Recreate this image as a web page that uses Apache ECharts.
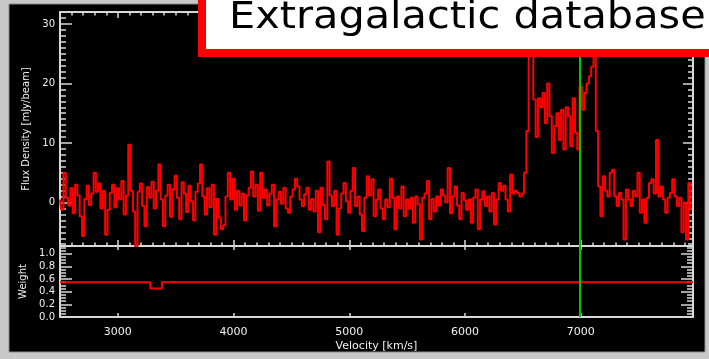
<!DOCTYPE html>
<html>
<head>
<meta charset="utf-8">
<script src="https://cdn.jsdelivr.net/npm/echarts@6/dist/echarts.min.js"></script>
<style>
html,body{margin:0;padding:0;background:#c8c8c8;}
#chart{width:709px;height:359px;}
</style>
</head>
<body>
<div id="chart"></div>
<script>
// ---- data ----
const TITLE = 'Extragalactic database';
const V_START = 2500;      // first channel velocity (km/s)
const V_STEP = 20;         // channel width (km/s)
const FLUX = [
  0.5, -1.2, 5.0, 0.8, -0.5, 2.4, -1.8, 3.0, 1.2, -2.3,
  -5.6, 0.6, 2.8, -0.4, 1.5, 5.0, 1.8, 3.2, -1.0, 2.0,
  -5.4, -1.2, 1.6, 3.0, -0.8, 2.4, 0.5, 3.6, -2.0, 1.2,
  9.7, 2.0, -1.5, -7.5, 1.8, 3.2, -0.6, -4.0, 2.6, 0.8,
  3.5, -1.0, 2.0, 6.4, 0.5, -4.0, 1.2, 3.0, -2.4, 2.2,
  4.5, 0.8, -2.8, 3.4, 1.5, -1.6, 2.8, 0.2, -3.0, 1.8,
  3.2, 6.4, 1.0, -2.0, 2.4, -0.8, 3.0, -5.4, 0.6, -2.5,
  -4.5, -3.8, 1.0, 5.0, 0.5, 4.0, -1.2, 2.0, -0.5, 1.5,
  -3.0, 1.2, 2.5, 5.2, 1.0, 3.0, -1.4, 5.0, 0.8, 2.2,
  -0.5, 1.5, 3.0, -4.0, 0.5, 1.8, -0.2, 2.5, -1.0, -1.7,
  1.0, 2.2, 4.0, 2.7, 0.5, -0.6, 1.4, 2.5, -1.2, 0.6,
  -1.5, 2.0, -5.0, 2.5, -0.4, -2.8, 6.9, 1.2, -0.6, 2.0,
  -5.4, -1.0, 1.5, 3.3, 0.2, -1.7, 2.0, 5.8, -0.6, 1.0,
  -2.0, -4.8, 0.8, 4.4, 1.2, 3.9, -2.3, 0.5, 2.2, -1.0,
  -2.8, 0.5, -0.8, 4.0, 0.8, -4.5, 1.0, -1.0, 2.7, -2.3,
  0.5, -1.0, 0.8, -3.4, 1.0, -0.3, -6.2, 0.8, 1.5, 3.6,
  -2.8, 0.6, -1.5, 1.0, -0.5, 2.2, 1.2, 0.0, 5.8, -1.8,
  1.0, 2.7, -0.5, -2.8, 1.6, 0.4, -1.2, 0.5, -3.4, 0.8,
  2.2, -4.5, 0.5, 1.9, -0.6, 1.0, -1.5, 1.6, -3.7, 0.5,
  3.3, 2.0, 2.8, 0.5, -1.5, 4.7, 1.5, 2.0, 1.6, 1.0,
  1.5, 5.0, 12.0, 28.0, 27.0, 17.3, 11.0, 17.5, 16.0, 18.4,
  13.3, 20.0, 14.5, 8.3, 12.8, 15.0, 10.5, 15.6, 8.9, 16.0,
  14.5, 9.4, 17.5, 11.7, 8.9, 19.5, 15.6, 18.4, 20.0, 21.2,
  22.8, 27.0, 12.0, 2.7, -2.3, 4.4, 2.0, 1.0, 5.0, 5.5,
  1.0, -0.6, 1.6, 0.5, -6.2, 2.2, 0.5, -0.6, 2.0, 1.0,
  5.0, -1.7, 0.5, -3.4, 0.8, 3.3, 3.9, 1.5, 10.5, 1.0,
  2.7, 0.5, -1.7, 0.8, 1.6, 3.9, 1.0, -0.6, 0.8, -5.0,
  0.0, -6.2, 3.3, -1.2
];
const WEIGHT_V = [2500, 3280, 3280, 3380, 3380, 7970];
const WEIGHT   = [0.55, 0.55, 0.45, 0.45, 0.55, 0.55];
const MARKER_V = 6990;
const X_MIN = 2500, X_MAX = 7970;
const FLUX_MIN = -7.3, FLUX_MAX = 32;
const W_MIN = 0, W_MAX = 1.12;

// ---- build ----
const fluxData = FLUX.map((f, i) => [V_START + i * V_STEP, f]);
const weightData = WEIGHT_V.map((v, i) => [v, WEIGHT[i]]);

const AX = '#d8d8d8';
const LBL = '#f0f0f0';
const FONT = 'DejaVu Sans';

function xAx(gridIndex, position, opts) {
  return Object.assign({
    type: 'value', gridIndex, position, min: X_MIN, max: X_MAX, splitNumber: 5,
    axisLine: { show: true, onZero: false, lineStyle: { color: AX, width: 2 } },
    axisTick: { show: true, inside: true, length: 6, lineStyle: { color: AX, width: 1.5 } },
    minorTick: { show: true, splitNumber: 10, length: 3.5, lineStyle: { color: AX, width: 1.5 } },
    axisLabel: { show: false },
    splitLine: { show: false }
  }, opts || {});
}
function yAx(gridIndex, position, min, max, opts) {
  return Object.assign({
    type: 'value', gridIndex, position, min, max, splitNumber: 5,
    axisLine: { show: true, onZero: false, lineStyle: { color: AX, width: 2 } },
    axisTick: { show: true, inside: true, length: 12, lineStyle: { color: AX, width: 1.5 } },
    minorTick: { show: true, splitNumber: 10, length: 6, lineStyle: { color: AX, width: 1.5 } },
    axisLabel: { show: false },
    splitLine: { show: false }
  }, opts || {});
}

const chart = echarts.init(document.getElementById('chart'), null, { renderer: 'canvas' });
chart.setOption({
  backgroundColor: '#000000',
  animation: false,
  grid: [
    { left: 60, right: 16, top: 12, height: 234 },
    { left: 60, right: 16, top: 246, height: 71 }
  ],
  xAxis: [
    xAx(0, 'bottom'),
    xAx(0, 'top'),
    xAx(1, 'bottom', {
      axisTick: { show: true, inside: true, length: 4, lineStyle: { color: AX, width: 1.5 } },
      minorTick: { show: false },
      axisLabel: { show: true, color: LBL, fontFamily: FONT, fontSize: 11, margin: 10,
                   showMinLabel: false, showMaxLabel: false, formatter: v => String(v) },
      name: 'Velocity [km/s]', nameLocation: 'middle', nameGap: 24,
      nameTextStyle: { color: LBL, fontFamily: FONT, fontSize: 11 }
    }),
    xAx(1, 'top', {
      axisTick: { show: true, inside: true, length: 4, lineStyle: { color: AX, width: 1.5 } },
      minorTick: { show: false }
    })
  ],
  yAxis: [
    yAx(0, 'left', FLUX_MIN, FLUX_MAX, {
      axisLabel: { show: true, color: LBL, fontFamily: FONT, fontSize: 10, margin: 5,
                   showMinLabel: false, showMaxLabel: false, formatter: v => String(v) },
      name: 'Flux Density [mJy/beam]', nameLocation: 'middle', nameGap: 27,
      nameTextStyle: { color: LBL, fontFamily: FONT, fontSize: 10 }
    }),
    yAx(0, 'right', FLUX_MIN, FLUX_MAX, {
      axisTick: { show: true, inside: true, length: 10, lineStyle: { color: AX, width: 1.5 } },
      minorTick: { show: true, splitNumber: 10, length: 5, lineStyle: { color: AX, width: 1.5 } }
    }),
    yAx(1, 'left', W_MIN, W_MAX, {
      minorTick: { show: true, splitNumber: 4, length: 6, lineStyle: { color: AX, width: 1.5 } },
      axisLabel: { show: true, color: LBL, fontFamily: FONT, fontSize: 10, margin: 5,
                   showMaxLabel: false, formatter: v => v.toFixed(1) },
      name: 'Weight', nameLocation: 'middle', nameGap: 31,
      nameTextStyle: { color: LBL, fontFamily: FONT, fontSize: 10 }
    }),
    yAx(1, 'right', W_MIN, W_MAX, {
      minorTick: { show: true, splitNumber: 4, length: 6, lineStyle: { color: AX, width: 1.5 } }
    })
  ],
  series: [
    {
      type: 'line', xAxisIndex: 0, yAxisIndex: 0, data: fluxData, step: 'middle',
      showSymbol: false, clip: true,
      lineStyle: { color: '#ff0000', width: 2 },
      markLine: {
        silent: true, symbol: ['none', 'none'], label: { show: false },
        lineStyle: { color: '#00c800', width: 2, type: 'solid' },
        data: [{ xAxis: MARKER_V }]
      }
    },
    {
      type: 'line', xAxisIndex: 2, yAxisIndex: 2, data: weightData,
      showSymbol: false, clip: true,
      lineStyle: { color: '#ff0000', width: 2 },
      markLine: {
        silent: true, symbol: ['none', 'none'], label: { show: false },
        lineStyle: { color: '#00c800', width: 2, type: 'solid' },
        data: [{ xAxis: MARKER_V }]
      }
    }
  ],
  graphic: [
    { type: 'rect', z: 90, shape: { x: 0, y: 0, width: 709, height: 4 }, style: { fill: '#c8c8c8' } },
    { type: 'rect', z: 90, shape: { x: 0, y: 0, width: 9, height: 359 }, style: { fill: '#c8c8c8' } },
    { type: 'rect', z: 90, shape: { x: 705, y: 0, width: 4, height: 359 }, style: { fill: '#c8c8c8' } },
    { type: 'rect', z: 90, shape: { x: 0, y: 352, width: 709, height: 7 }, style: { fill: '#c8c8c8' } },
    { type: 'rect', z: 91, shape: { x: 9, y: 4, width: 696, height: 348 },
      style: { fill: 'none', stroke: '#8a8a8a', lineWidth: 1 } },
    { type: 'rect', z: 100, shape: { x: 202, y: -10, width: 600, height: 63 },
      style: { fill: '#ffffff', stroke: '#ff0000', lineWidth: 8 } },
    { type: 'text', z: 101, x: 229, y: 37, scaleX: 1.12, originX: 0, originY: 0,
      style: { text: TITLE, fill: '#000000', font: '37px "DejaVu Sans"', textVerticalAlign: 'bottom', verticalAlign: 'bottom' } }
  ]
});
</script>
</body>
</html>
